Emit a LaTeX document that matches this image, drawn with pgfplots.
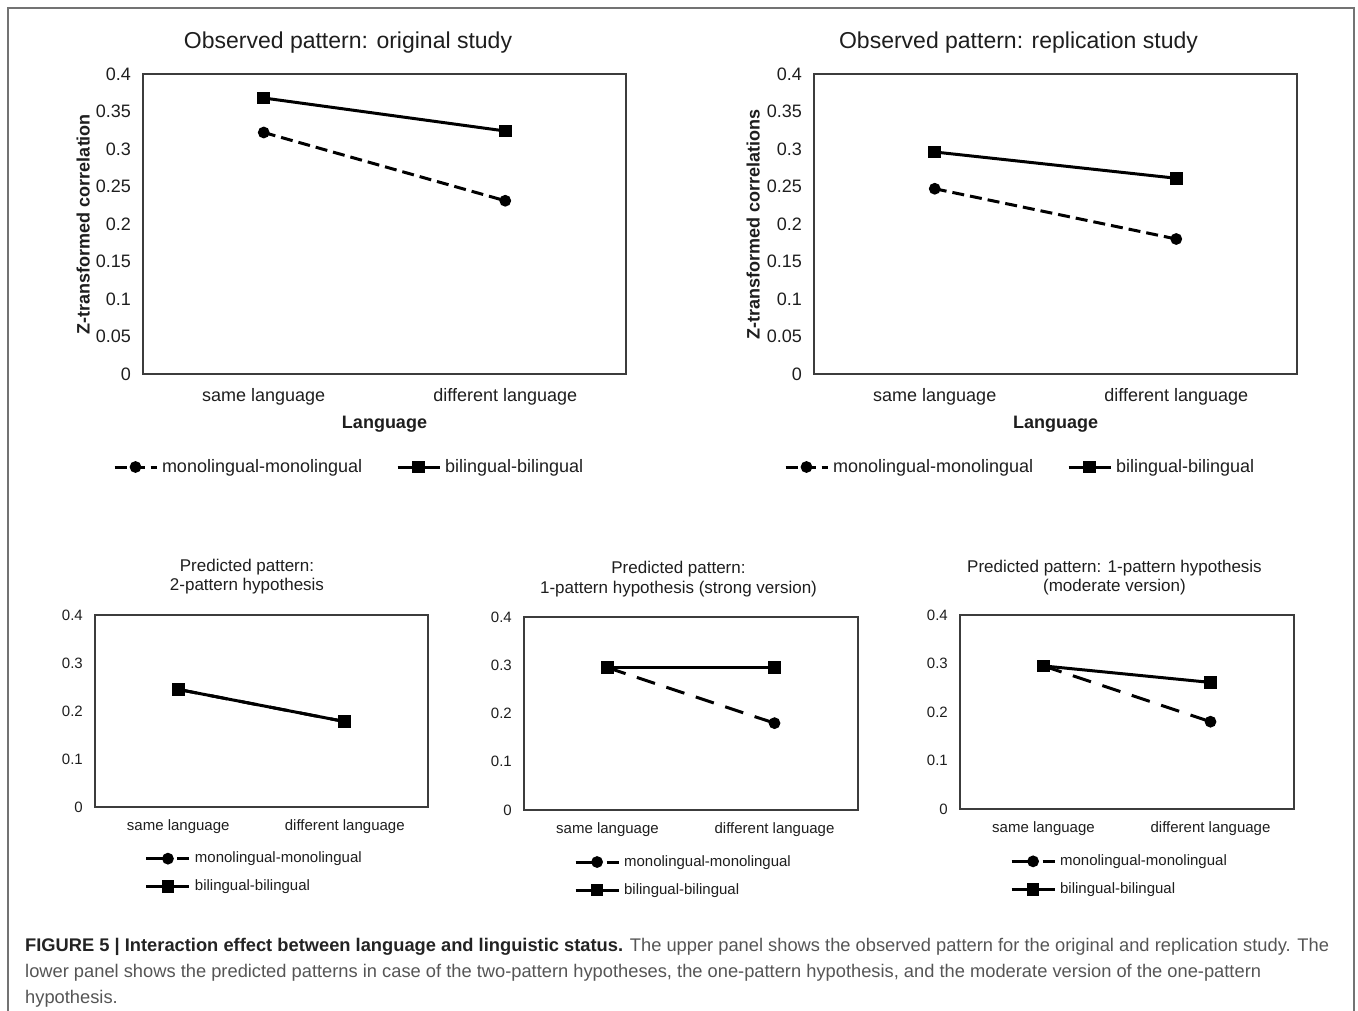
\documentclass[border=0pt]{standalone}
\usepackage{fontspec}
\setmainfont{Liberation Sans}
\usepackage{pgfplots}
\pgfplotsset{compat=1.18}
\definecolor{txt}{RGB}{30,30,30}
\definecolor{axc}{RGB}{60,60,60}
\definecolor{brd}{RGB}{115,115,115}
\definecolor{capb}{RGB}{35,35,35}
\definecolor{capr}{RGB}{85,85,85}

\pgfplotsset{
  base/.style={scale only axis, xmin=0.5, xmax=2.5, ymin=0, ymax=0.4,
    xtick={1,2}, xticklabels={same language,different language},
    axis line style={draw=axc, line width=1.4pt},
    major tick length=0pt, tick style={draw=none},
    /pgf/number format/assume math mode=true,
    /pgf/number format/fixed, /pgf/number format/precision=2,
    ticklabel style={text=txt},
    yticklabel style={inner sep=0pt, xshift=-12pt},
    legend cell align=left, clip=false},
  upper/.style={base, width=483pt, height=300pt,
    ytick={0,0.05,0.1,0.15,0.2,0.25,0.3,0.35,0.4},
    tick label style={font=\fontsize{18}{20}\selectfont},
    xticklabel style={inner sep=0pt, yshift=-14pt},
    label style={font=\bfseries\fontsize{18}{20}\selectfont, text=txt},
    xlabel={Language},
    xlabel style={at={(axis description cs:0.5,-0.167)}, anchor=center},
    legend columns=2,
    legend style={draw=none, fill=none, inner sep=0pt, outer sep=0pt, text=txt,
      font=\fontsize{18}{20}\selectfont, at={(-0.0621,-0.31)}, anchor=west,
      nodes={inner sep=0pt, inner xsep=4pt},
      /tikz/every even column/.append style={column sep=30pt}},
    legend image code/.code={\draw[mark repeat=2,mark phase=2,##1] plot coordinates {(0pt,0pt) (21pt,0pt) (42pt,0pt)};}
  },
  lower/.style={base, width=333pt, height=193pt,
    ytick={0,0.1,0.2,0.3,0.4},
    tick label style={font=\fontsize{15}{17}\selectfont},
    xticklabel style={inner sep=0pt, yshift=-12pt},
    legend columns=1,
    legend style={draw=none, fill=none, inner sep=0pt, outer sep=0pt, text=txt,
      font=\fontsize{15}{17}\selectfont, at={(0.150,-0.342)}, anchor=west,
      nodes={inner sep=0pt, inner xsep=4pt, text height=11pt, text depth=3pt},
      row sep=14pt},
    legend image code/.code={\draw[mark repeat=2,mark phase=2,##1] plot coordinates {(0pt,0pt) (21.5pt,0pt) (43pt,0pt)};}
  },
  monoU/.style={black, line width=3pt, dash pattern=on 12pt off 6pt, mark=*, mark size=4.3pt, mark options={solid}},
  biU/.style={black, line width=3pt, solid, mark=square*, mark size=4.8pt, mark options={solid}},
  monoL/.style={black, line width=3pt, dash pattern=on 19pt off 12pt, mark=*, mark size=4.3pt, mark options={solid}},
  biL/.style={black, line width=3pt, solid, mark=square*, mark size=4.8pt, mark options={solid}},
}

\begin{document}
\begin{tikzpicture}
\path[use as bounding box] (0pt,0pt) rectangle (1358pt,-1011pt);
\draw[brd, line width=1.8pt] (8pt,-1011pt) -- (8pt,-8pt) -- (1354pt,-8pt) -- (1354pt,-1011pt);

% ---------- upper left
\begin{axis}[upper, at={(143pt,-374pt)}, anchor=south west,
  ylabel={Z-transformed correlation},
  ylabel style={at={(axis description cs:-0.124,0.5)}, anchor=center}]
\addplot[monoU] coordinates {(1,0.322) (2,0.231)};
\addlegendentry{monolingual-monolingual}
\addplot[biU] coordinates {(1,0.368) (2,0.324)};
\addlegendentry{bilingual-bilingual}
\end{axis}

% ---------- upper right
\begin{axis}[upper, at={(814pt,-374pt)}, anchor=south west,
  ylabel={Z-transformed correlations},
  ylabel style={at={(axis description cs:-0.126,0.5)}, anchor=center}]
\addplot[monoU] coordinates {(1,0.247) (2,0.180)};
\addlegendentry{monolingual-monolingual}
\addplot[biU] coordinates {(1,0.296) (2,0.261)};
\addlegendentry{bilingual-bilingual}
\end{axis}

% ---------- lower left
\begin{axis}[lower, at={(95pt,-807pt)}, anchor=south west, height=192pt]
\addplot[monoL] coordinates {(1,0.245) (2,0.178)};
\addlegendentry{monolingual-monolingual}
\addplot[biL] coordinates {(1,0.245) (2,0.178)};
\addlegendentry{bilingual-bilingual}
\end{axis}

% ---------- lower middle
\begin{axis}[lower, at={(524pt,-810pt)}, anchor=south west, width=334pt]
\addplot[monoL] coordinates {(1,0.295) (2,0.180)};
\addlegendentry{monolingual-monolingual}
\addplot[biL] coordinates {(1,0.295) (2,0.295)};
\addlegendentry{bilingual-bilingual}
\end{axis}

% ---------- lower right
\begin{axis}[lower, at={(960pt,-809pt)}, anchor=south west, width=334pt, height=194pt]
\addplot[monoL] coordinates {(1,0.295) (2,0.180)};
\addlegendentry{monolingual-monolingual}
\addplot[biL] coordinates {(1,0.295) (2,0.261)};
\addlegendentry{bilingual-bilingual}
\end{axis}

% ---------- titles
\node[text=txt, font=\fontsize{23}{26}\selectfont] at (348pt,-43pt) {Observed pattern: original study};
\node[text=txt, font=\fontsize{23}{26}\selectfont] at (1018.5pt,-43pt) {Observed pattern: replication study};
\node[text=txt, font=\fontsize{17}{19}\selectfont] at (247pt,-567pt) {Predicted pattern:};
\node[text=txt, font=\fontsize{17}{19}\selectfont] at (247pt,-586pt) {2-pattern hypothesis};
\node[text=txt, font=\fontsize{17}{19}\selectfont] at (678.5pt,-569pt) {Predicted pattern:};
\node[text=txt, font=\fontsize{17}{19}\selectfont] at (678.5pt,-589pt) {1-pattern hypothesis (strong version)};
\node[text=txt, font=\fontsize{17}{19}\selectfont] at (1114.5pt,-568pt) {Predicted pattern: 1-pattern hypothesis};
\node[text=txt, font=\fontsize{17}{19}\selectfont] at (1114.5pt,-587pt) {(moderate version)};

% ---------- caption
\node[anchor=base west, inner sep=0pt, text=capr, font=\fontsize{18.3}{21}\selectfont] at (25pt,-951pt)
  {\textcolor{capb}{\bfseries FIGURE 5 | Interaction effect between language and linguistic status.} The upper panel shows the observed pattern for the original and replication study. The};
\node[anchor=base west, inner sep=0pt, text=capr, font=\fontsize{18.3}{21}\selectfont] at (25pt,-977pt)
  {lower panel shows the predicted patterns in case of the two-pattern hypotheses, the one-pattern hypothesis, and the moderate version of the one-pattern};
\node[anchor=base west, inner sep=0pt, text=capr, font=\fontsize{18.3}{21}\selectfont] at (25pt,-1003pt)
  {hypothesis.};
\end{tikzpicture}
\end{document}
